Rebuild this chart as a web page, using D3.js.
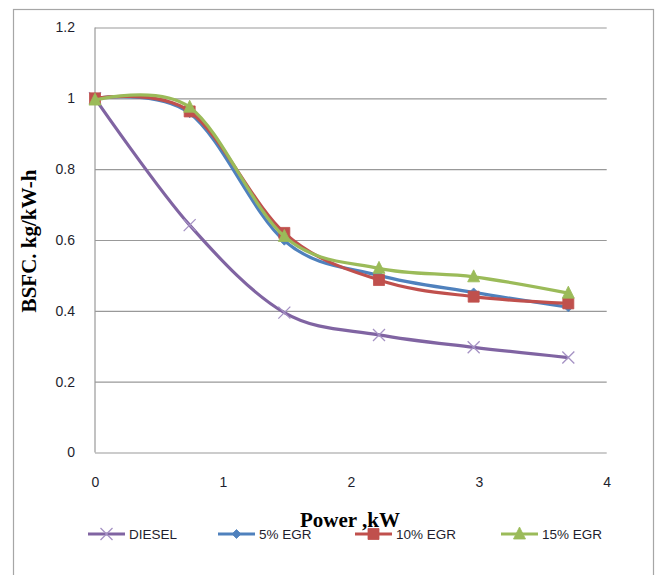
<!DOCTYPE html>
<html>
<head>
<meta charset="utf-8">
<script src="https://cdn.jsdelivr.net/npm/d3@7"></script>
<style>
  body { margin: 0; background: #fff; }
  svg { display: block; }
</style>
</head>
<body>
<svg id="chart"></svg>
<script>
// values
const power = [0, 0.74, 1.48, 2.22, 2.96, 3.7];
const diesel = [1.0, 0.642, 0.395, 0.332, 0.297, 0.268];
const egr5 = [1.0, 0.958, 0.598, 0.5, 0.452, 0.41];
const egr10 = [1.0, 0.963, 0.62, 0.487, 0.44, 0.421];
const egr15 = [0.995, 0.975, 0.61, 0.52, 0.496, 0.45];
const seriesNames = ['DIESEL', '5% EGR', '10% EGR', '15% EGR'];
const yTicks = [0, 0.2, 0.4, 0.6, 0.8, 1, 1.2];
const xTicks = [0, 1, 2, 3, 4];

const width = 658;
const height = 575;
const margin = { top: 27.5, right: 51.3, bottom: 122.5, left: 95 };
const plotW = width - margin.left - margin.right;
const plotH = height - margin.top - margin.bottom;

const colors = ['#8064A2', '#4F81BD', '#C0504D', '#9BBB59'];
const markers = ['cross', 'diamond', 'square', 'triangle'];
const values = [diesel, egr5, egr10, egr15];
// legend item left edges
const legendX = [88, 218, 355, 501];

const svg = d3.select('#chart')
  .attr('width', width)
  .attr('height', height)
  .style('font-family', '"Liberation Sans", Arial, sans-serif');

// outer frame (bottom edge falls outside the picture)
svg.append('rect')
  .attr('x', 13.5)
  .attr('y', 9.5)
  .attr('width', 640)
  .attr('height', 600)
  .attr('fill', 'none')
  .attr('stroke', '#a6a6a6')
  .attr('stroke-width', 1.2);

const xScale = d3.scaleLinear().domain([0, 4]).range([0, plotW]);
const yScale = d3.scaleLinear().domain([0, 1.2]).range([plotH, 0]);

const g = svg.append('g')
  .attr('transform', `translate(${margin.left},${margin.top})`);

// y axis with gridlines
const yAxis = d3.axisLeft(yScale)
  .tickValues(yTicks)
  .tickSize(-plotW)
  .tickPadding(20)
  .tickFormat(d => String(+d.toFixed(1)));

const yG = g.append('g').attr('class', 'y-axis').call(yAxis);
yG.select('.domain').remove();
yG.selectAll('.tick line').attr('stroke', '#999').attr('stroke-width', 1.2);
yG.selectAll('.tick text')
  .attr('fill', '#1e1e2e')
  .style('font-size', '14px');

// x axis
const xAxis = d3.axisBottom(xScale)
  .tickValues(xTicks)
  .tickSize(0)
  .tickPadding(25)
  .tickFormat(d3.format('d'));

const xG = g.append('g')
  .attr('class', 'x-axis')
  .attr('transform', `translate(0,${plotH})`)
  .call(xAxis);
xG.select('.domain').remove();
xG.selectAll('.tick text')
  .attr('fill', '#1e1e2e')
  .style('font-size', '14px');

// left axis line
g.append('line')
  .attr('x1', 0).attr('x2', 0)
  .attr('y1', 0).attr('y2', plotH)
  .attr('stroke', '#999')
  .attr('stroke-width', 1.2);

function markerPath(type, cx, cy) {
  if (type === 'cross') {
    const s = 6;
    return `M${cx - s},${cy - s}L${cx + s},${cy + s}M${cx - s},${cy + s}L${cx + s},${cy - s}`;
  }
  if (type === 'diamond') {
    const s = 4.5;
    return `M${cx},${cy - s}L${cx + s},${cy}L${cx},${cy + s}L${cx - s},${cy}Z`;
  }
  if (type === 'square') {
    const s = 5.5;
    return `M${cx - s},${cy - s}H${cx + s}V${cy + s}H${cx - s}Z`;
  }
  const s = 6;
  return `M${cx},${cy - s - 1}L${cx + s},${cy + s - 1}L${cx - s},${cy + s - 1}Z`;
}

function drawMarker(sel, type, color, cx, cy) {
  const p = sel.append('path').attr('d', markerPath(type, cx, cy));
  if (type === 'cross') {
    p.attr('fill', 'none').attr('stroke', '#a592c4').attr('stroke-width', 1.3);
  } else {
    p.attr('fill', color).attr('stroke', color).attr('stroke-width', 0.8);
  }
}

const line = d3.line()
  .x(d => xScale(d[0]))
  .y(d => yScale(d[1]))
  .curve(d3.curveCardinal.tension(0));

values.forEach((vals, i) => {
  const pts = power.map((p, j) => [p, vals[j]]);
  const sg = g.append('g').attr('class', 'series');
  sg.append('path')
    .datum(pts)
    .attr('d', line)
    .attr('fill', 'none')
    .attr('stroke', colors[i])
    .attr('stroke-width', 3.2)
    .attr('stroke-linejoin', 'round');
  pts.forEach(d => drawMarker(sg, markers[i], colors[i], xScale(d[0]), yScale(d[1])));
});

// legend
const legend = svg.append('g').attr('class', 'legend');
const ly = 534;
seriesNames.forEach((name, i) => {
  const lx = legendX[i];
  const item = legend.append('g');
  item.append('line')
    .attr('x1', lx).attr('x2', lx + 37)
    .attr('y1', ly).attr('y2', ly)
    .attr('stroke', colors[i])
    .attr('stroke-width', 3);
  drawMarker(item, markers[i], colors[i], lx + 18.5, ly);
  item.append('text')
    .attr('x', lx + 41)
    .attr('y', ly + 5)
    .attr('fill', '#1e1e2e')
    .style('font-size', '13.5px')
    .text(name);
});

// axis titles
svg.append('text')
  .attr('x', 350)
  .attr('y', 527)
  .attr('text-anchor', 'middle')
  .style('font-family', '"Liberation Serif", "Times New Roman", serif')
  .style('font-weight', 'bold')
  .style('font-size', '21px')
  .attr('fill', '#000')
  .text('Power ,kW');

svg.append('text')
  .attr('transform', 'translate(36,241) rotate(-90)')
  .attr('text-anchor', 'middle')
  .style('font-family', '"Liberation Serif", "Times New Roman", serif')
  .style('font-weight', 'bold')
  .style('font-size', '21px')
  .attr('fill', '#000')
  .text('BSFC. kg/kW-h');
</script>
</body>
</html>
